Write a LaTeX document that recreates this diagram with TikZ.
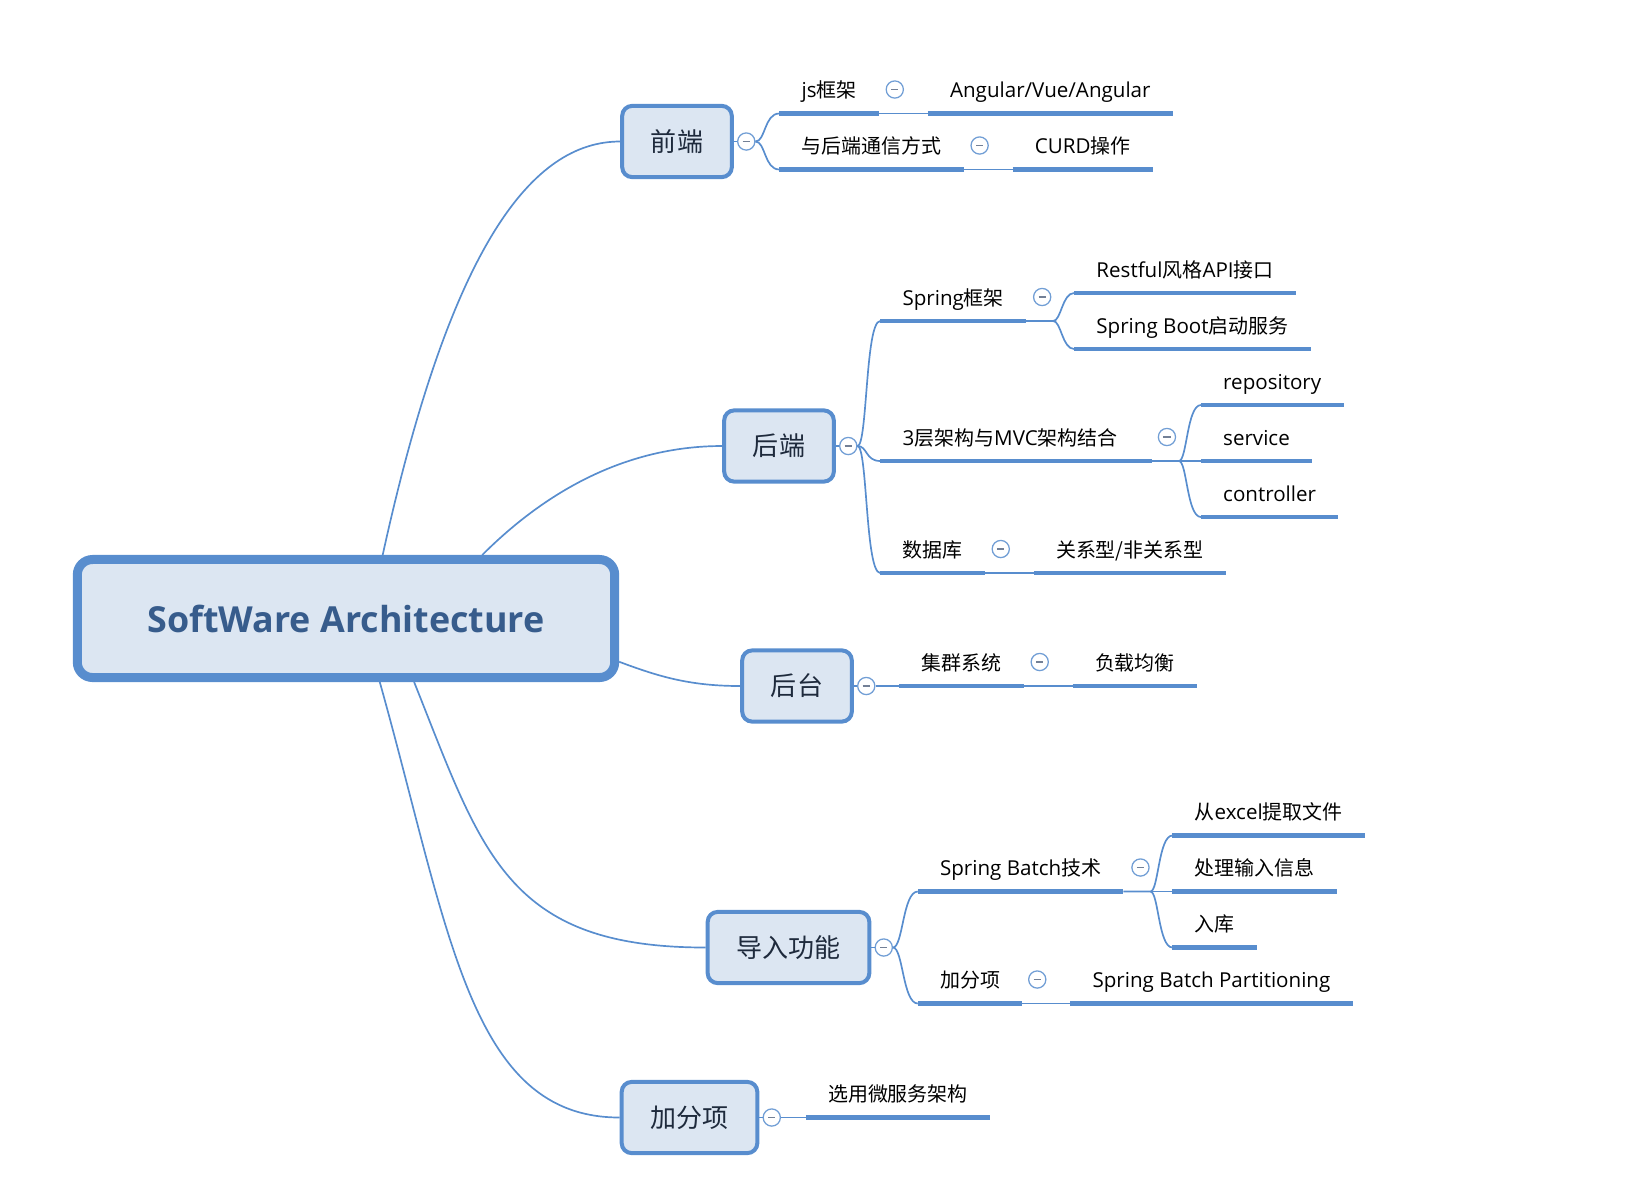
\documentclass[tikz,border=0pt]{standalone}
\usepackage{fontspec}
\setmainfont{Open Sans}[Scale=1.03]
\newfontfamily\cjk{Noto Sans CJK SC}
\usepackage{xcolor}
\usepackage{tikz}
\usetikzlibrary{positioning}
\definecolor{mapblue}{RGB}{88,141,206}
\definecolor{mapfill}{RGB}{220,230,242}
\definecolor{roottext}{RGB}{55,92,140}
\definecolor{boxtext}{RGB}{30,42,60}
\definecolor{foldgray}{RGB}{115,128,150}
\newcommand{\zh}[1]{{\cjk #1}}
\tikzstyle{rootbox} = [rectangle, draw=mapblue, fill=mapfill, line width=6.4pt, rounded corners=0.38cm, minimum width=13.43cm, minimum height=2.95cm, font=\fontsize{24.75}{30}\selectfont\bfseries, text=roottext]
\tikzstyle{mainbox} = [rectangle, draw=mapblue, fill=mapfill, line width=2.85pt, rounded corners=0.25cm, inner xsep=0.72cm, minimum height=1.78cm, font=\cjk\fontsize{18.5}{22}\selectfont, text=boxtext]
\tikzstyle{uline} = [draw=mapblue, line width=3.5pt]
\tikzstyle{topic} = [inner xsep=0.55cm, inner ysep=0pt, text height=0.5cm, text depth=0.385cm, anchor=south west, font=\fontsize{14.2}{17}\selectfont, append after command={(\tikzlastnode.south west) edge[uline] (\tikzlastnode.south east)}]
\tikzstyle{conn} = [draw=mapblue, line width=1.2pt]
\tikzstyle{foldbtn} = [circle, draw=mapblue!85, fill=white, line width=0.9pt, minimum size=0.43cm, inner sep=0pt, path picture={\draw[foldgray, line width=0.9pt] ([xshift=-0.09cm]path picture bounding box.center) -- ([xshift=0.09cm]path picture bounding box.center);}]

\begin{document}
\begin{tikzpicture}[x=0.025cm, y=-0.025cm]
\useasboundingbox (0,0) rectangle (1628,1186);

% Root and the five main branches
\node[rootbox] (root) at (346,618.5) {SoftWare Architecture};
\node[mainbox] (qd) at (677,141.5) {前端};
\node[mainbox] (hd) at (779,446) {后端};
\node[mainbox] (ht) at (797,686) {后台};
\node[mainbox] (dr) at (788.5,947.5) {导入功能};
\node[mainbox] (jf) at (689.5,1117.5) {加分项};

% Fold buttons right of the main branches
\node[foldbtn, right=0.08cm of qd] (fqd) {};
\node[foldbtn, right=0.08cm of hd] (fhd) {};
\node[foldbtn, right=0.08cm of ht] (fht) {};
\node[foldbtn, right=0.08cm of dr] (fdr) {};
\node[foldbtn, right=0.08cm of jf] (fjf) {};

% Root to main branches
\draw[conn] (root.60) .. controls +(68,-310) and +(-88,0) .. (qd.west);
\draw[conn] (root.25) .. controls +(60,-60) and +(-100,0) .. (hd.west);
\draw[conn] (root.-9) .. controls +(40,15) and +(-50,0) .. (ht.west);
\draw[conn] (root.-43.5) .. controls +(68,170) and +(-200,0) .. (dr.west);
\draw[conn] (root.-62) .. controls +(70,250) and +(-150,0) .. (jf.west);
\draw[conn] (qd) -- (fqd);
\draw[conn] (hd) -- (fhd);
\draw[conn] (ht) -- (fht);
\draw[conn] (dr) -- (fdr);
\draw[conn] (jf) -- (fjf);

% 前端
\node[topic] (jsk) at ([shift={(33,-28)}]fqd.center) {js\zh{框架}};
\node[foldbtn] (fjsk) at ([shift={(16,-24)}]jsk.south east) {};
\node[topic, right=1.225cm of jsk.south east, anchor=south west] (ang) {Angular/Vue/Angular};
\node[topic] (txfs) at ([shift={(33,28)}]fqd.center) {\zh{与后端通信方式}};
\node[foldbtn] (ftxfs) at ([shift={(16,-24)}]txfs.south east) {};
\node[topic, right=1.225cm of txfs.south east, anchor=south west] (curd) {CURD\zh{操作}};
\draw[conn] (fqd.east) .. controls +(10,0) and +(-15,0) .. (jsk.south west);
\draw[conn] (fqd.east) .. controls +(10,0) and +(-15,0) .. (txfs.south west);
\draw[conn] (jsk.south east) -- (ang.south west);
\draw[conn] (txfs.south east) -- (curd.south west);

% 后端
\node[topic] (spk) at ([shift={(32,-125)}]fhd.center) {Spring\zh{框架}};
\node[foldbtn] (fspk) at ([shift={(16,-24)}]spk.south east) {};
\coordinate (bspk) at ([shift={(27,0)}]spk.south east);
\node[topic] (rest) at ([shift={(21,-28)}]bspk) {Restful\zh{风格}API\zh{接口}};
\node[topic] (boot) at ([shift={(21,28)}]bspk) {Spring Boot\zh{启动服务}};
\node[topic] (mvc) at ([shift={(32,15)}]fhd.center) {3\zh{层架构与}MVC\zh{架构结合}\kern0.3cm};
\node[foldbtn] (fmvc) at ([shift={(15,-24)}]mvc.south east) {};
\coordinate (bmvc) at ([shift={(27,0)}]mvc.south east);
\node[topic] (repo) at ([shift={(22,-56)}]bmvc) {repository};
\node[topic] (serv) at ([shift={(22,0)}]bmvc) {service};
\node[topic] (ctrl) at ([shift={(22,56)}]bmvc) {controller};
\node[topic] (sjk) at ([shift={(32,127)}]fhd.center) {\zh{数据库}};
\node[foldbtn] (fsjk) at ([shift={(16,-24)}]sjk.south east) {};
\node[topic, right=1.225cm of sjk.south east, anchor=south west] (gx) {\zh{关系型/非关系型}};
\draw[conn] (fhd.east) .. controls +(10,0) and +(-15,0) .. (spk.south west);
\draw[conn] (fhd.east) .. controls +(10,0) and +(-15,0) .. (mvc.south west);
\draw[conn] (fhd.east) .. controls +(10,0) and +(-15,0) .. (sjk.south west);
\draw[conn] (spk.south east) -- (bspk) .. controls +(8,0) and +(-12,0) .. (rest.south west);
\draw[conn] (bspk) .. controls +(8,0) and +(-12,0) .. (boot.south west);
\draw[conn] (mvc.south east) -- (bmvc) .. controls +(8,0) and +(-14,0) .. (repo.south west);
\draw[conn] (bmvc) -- (serv.south west);
\draw[conn] (bmvc) .. controls +(8,0) and +(-14,0) .. (ctrl.south west);
\draw[conn] (sjk.south east) -- (gx.south west);

% 后台
\node[topic] (jq) at ([shift={(33,0)}]fht.center) {\zh{集群系统}};
\node[foldbtn] (fjq) at ([shift={(16,-24)}]jq.south east) {};
\node[topic, right=1.225cm of jq.south east, anchor=south west] (fz) {\zh{负载均衡}};
\draw[conn] (fht) -- (jq.south west);
\draw[conn] (jq.south east) -- (fz.south west);

% 导入功能
\node[topic] (sb) at ([shift={(34,-56)}]fdr.center) {Spring Batch\zh{技术}};
\node[foldbtn] (fsb) at ([shift={(17,-24)}]sb.south east) {};
\coordinate (bsb) at ([shift={(27,0)}]sb.south east);
\node[topic] (ex) at ([shift={(22,-56)}]bsb) {\zh{从}excel\zh{提取文件}};
\node[topic] (cl) at ([shift={(22,0)}]bsb) {\zh{处理输入信息}};
\node[topic] (rk) at ([shift={(22,56)}]bsb) {\zh{入库}};
\node[topic] (jfx) at ([shift={(34,56)}]fdr.center) {\zh{加分项}};
\node[foldbtn] (fjfx) at ([shift={(15,-24)}]jfx.south east) {};
\node[topic, right=1.2cm of jfx.south east, anchor=south west] (part) {Spring Batch Partitioning};
\draw[conn] (fdr.east) .. controls +(10,0) and +(-15,0) .. (sb.south west);
\draw[conn] (fdr.east) .. controls +(10,0) and +(-15,0) .. (jfx.south west);
\draw[conn] (sb.south east) -- (bsb) .. controls +(8,0) and +(-14,0) .. (ex.south west);
\draw[conn] (bsb) -- (cl.south west);
\draw[conn] (bsb) .. controls +(8,0) and +(-14,0) .. (rk.south west);
\draw[conn] (jfx.south east) -- (part.south west);

% 加分项
\node[topic] (wf) at ([shift={(34,0)}]fjf.center) {\zh{选用微服务架构}};
\draw[conn] (fjf) -- (wf.south west);

\end{tikzpicture}
\end{document}
